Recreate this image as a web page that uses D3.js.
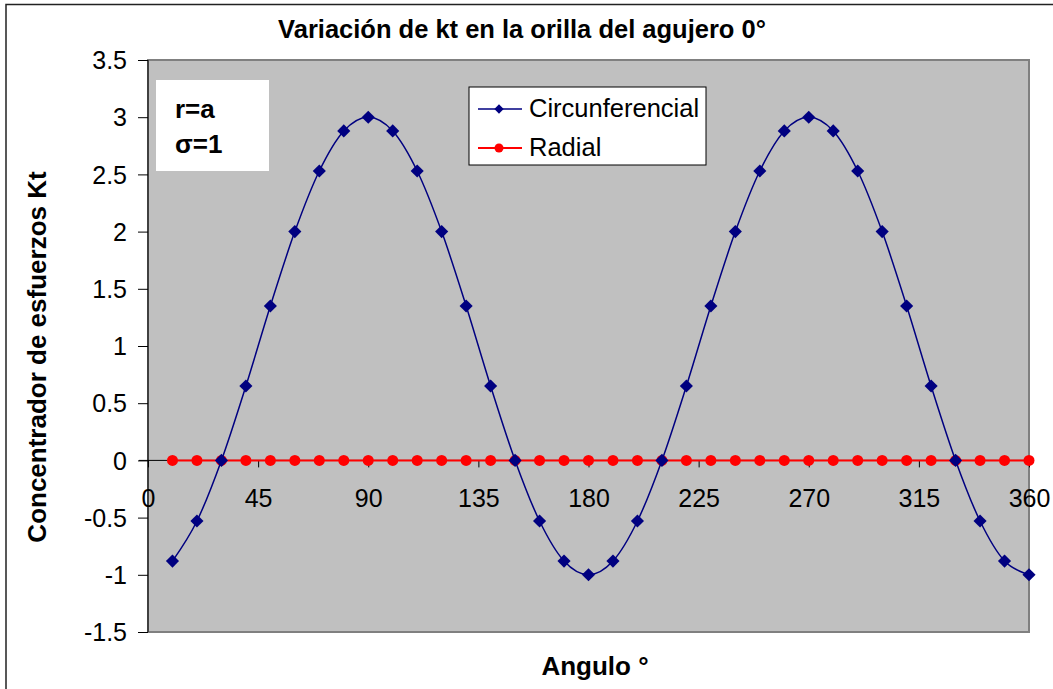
<!DOCTYPE html>
<html>
<head>
<meta charset="utf-8">
<script src="https://cdn.jsdelivr.net/npm/d3@7"></script>
<style>
  body { margin: 0; background: #fff; }
  text { font-family: "Liberation Sans", Arial, sans-serif; }
</style>
</head>
<body>
<div id="canvas"></div>
<script>
// data
var angles = [10, 20, 30, 40, 50, 60, 70, 80, 90, 100, 110, 120, 130, 140, 150, 160, 170, 180,
              190, 200, 210, 220, 230, 240, 250, 260, 270, 280, 290, 300, 310, 320, 330, 340, 350, 360];
var circunferencial = [-0.88, -0.53, 0, 0.65, 1.35, 2, 2.53, 2.88, 3, 2.88, 2.53, 2, 1.35, 0.65, 0, -0.53, -0.88, -1,
                       -0.88, -0.53, 0, 0.65, 1.35, 2, 2.53, 2.88, 3, 2.88, 2.53, 2, 1.35, 0.65, 0, -0.53, -0.88, -1];
var radial = [0, 0, 0, 0, 0, 0, 0, 0, 0, 0, 0, 0, 0, 0, 0, 0, 0, 0,
              0, 0, 0, 0, 0, 0, 0, 0, 0, 0, 0, 0, 0, 0, 0, 0, 0, 0];
var xTicks = [0, 45, 90, 135, 180, 225, 270, 315, 360];
var yTicks = [-1.5, -1, -0.5, 0, 0.5, 1, 1.5, 2, 2.5, 3, 3.5];
var seriesNames = ['Circunferencial', 'Radial'];

var W = 1053, H = 689;
var m = {t: 60, r: 24, b: 57, l: 148},
    w = 1029 - m.l,
    h = 632 - m.t;

var svg = d3.select('#canvas')
  .append('svg')
  .attr('width', W)
  .attr('height', H);

// outer frame (cut by the picture on the right and bottom)
svg.append('rect')
  .attr('x', 6).attr('y', 4.5)
  .attr('width', W + 10).attr('height', H + 10)
  .attr('fill', 'none')
  .attr('stroke', '#222')
  .attr('stroke-width', 1.5);

var plot = svg.append('g')
  .attr('transform', 'translate(' + m.l + ',' + m.t + ')');

// Scale
var scaleX = d3.scaleLinear().domain([0, 360]).range([0, w]);
var scaleY = d3.scaleLinear().domain([-1.5, 3.5]).range([h, 0]);

// plot area
plot.append('rect')
  .attr('width', w).attr('height', h)
  .attr('fill', '#c0c0c0')
  .attr('stroke', '#808080')
  .attr('stroke-width', 2);

// Axis
var axisY = d3.axisLeft(scaleY)
  .tickValues(yTicks)
  .tickSize(10)
  .tickPadding(11)
  .tickFormat(function(d){ return d; });

var axisX = d3.axisBottom(scaleX)
  .tickValues(xTicks)
  .tickSize(7)
  .tickSizeOuter(0);

var gy = plot.append('g').attr('class', 'axis axis-y').call(axisY);
gy.select('.domain').attr('stroke', '#000').attr('d', 'M0,' + h + 'V0');
gy.selectAll('line').attr('stroke', '#000');
gy.selectAll('text').style('font-size', '25px').attr('fill', '#000').attr('dy', '0.35em');

var gx = plot.append('g').attr('class', 'axis axis-x')
  .attr('transform', 'translate(0,' + scaleY(0) + ')')
  .call(axisX);
gx.select('.domain').attr('stroke', '#000').attr('d', 'M-9,0H' + w);
gx.selectAll('line').attr('stroke', '#000');
gx.selectAll('text').style('font-size', '25px').attr('fill', '#000')
  .attr('y', 47).attr('dy', 0);

// lines
var dataCirc = angles.map(function(a, i){ return {x: a, y: circunferencial[i]}; });
var dataRad = angles.map(function(a, i){ return {x: a, y: radial[i]}; });

var line = d3.line()
  .x(function(d){ return scaleX(d.x); })
  .y(function(d){ return scaleY(d.y); });

plot.append('path')
  .datum(dataRad)
  .attr('d', line)
  .attr('fill', 'none')
  .attr('stroke', '#ff0000')
  .attr('stroke-width', 2);

plot.selectAll('.dot-rad')
  .data(dataRad)
  .enter().append('circle')
  .attr('class', 'dot-rad')
  .attr('cx', function(d){ return scaleX(d.x); })
  .attr('cy', function(d){ return scaleY(d.y); })
  .attr('r', 5.5)
  .attr('fill', '#ff0000');

plot.append('path')
  .datum(dataCirc)
  .attr('d', line.curve(d3.curveCardinal.tension(0)))
  .attr('fill', 'none')
  .attr('stroke', '#000080')
  .attr('stroke-width', 1.5);

var diamond = d3.symbol().type(d3.symbolDiamond2).size(110);
plot.selectAll('.dot-circ')
  .data(dataCirc)
  .enter().append('path')
  .attr('class', 'dot-circ')
  .attr('d', diamond)
  .attr('transform', function(d){ return 'translate(' + scaleX(d.x) + ',' + scaleY(d.y) + ')'; })
  .attr('fill', '#000080');

// text box r=a, sigma=1
svg.append('rect')
  .attr('x', 156).attr('y', 80)
  .attr('width', 113).attr('height', 91)
  .attr('fill', '#fff');
svg.append('text')
  .attr('x', 175).attr('y', 118)
  .style('font-size', '26px').style('font-weight', 'bold')
  .text('r=a');
svg.append('text')
  .attr('x', 175).attr('y', 153)
  .style('font-size', '26px').style('font-weight', 'bold')
  .text('σ=1');

// legend
var legend = svg.append('g').attr('transform', 'translate(469,87)');
legend.append('rect')
  .attr('width', 237).attr('height', 78)
  .attr('fill', '#fff')
  .attr('stroke', '#000')
  .attr('stroke-width', 1);

var legDiamond = d3.symbol().type(d3.symbolDiamond2).size(55);
var legColors = ['#000080', '#ff0000'];
seriesNames.forEach(function(name, i){
  var yy = 22 + i * 39;
  legend.append('line')
    .attr('x1', 9).attr('x2', 53)
    .attr('y1', yy).attr('y2', yy)
    .attr('stroke', legColors[i])
    .attr('stroke-width', i == 0 ? 1.5 : 2);
  if (i == 0) {
    legend.append('path')
      .attr('d', legDiamond)
      .attr('transform', 'translate(30,' + yy + ')')
      .attr('fill', legColors[i]);
  } else {
    legend.append('circle')
      .attr('cx', 30).attr('cy', yy).attr('r', 4.5)
      .attr('fill', legColors[i]);
  }
  legend.append('text')
    .attr('x', 60).attr('y', yy + 8)
    .style('font-size', '25.5px')
    .text(name);
});

// titles
svg.append('text')
  .attr('x', 522).attr('y', 38)
  .style('text-anchor', 'middle')
  .style('font-size', '25.5px').style('font-weight', 'bold')
  .text('Variación de kt en la orilla del agujero 0°');

svg.append('text')
  .attr('x', 595).attr('y', 675)
  .style('text-anchor', 'middle')
  .style('font-size', '26px').style('font-weight', 'bold')
  .text('Angulo °');

svg.append('text')
  .attr('transform', 'translate(46,357) rotate(-90)')
  .style('text-anchor', 'middle')
  .style('font-size', '26px').style('font-weight', 'bold')
  .text('Concentrador de esfuerzos Kt');
</script>
</body>
</html>
